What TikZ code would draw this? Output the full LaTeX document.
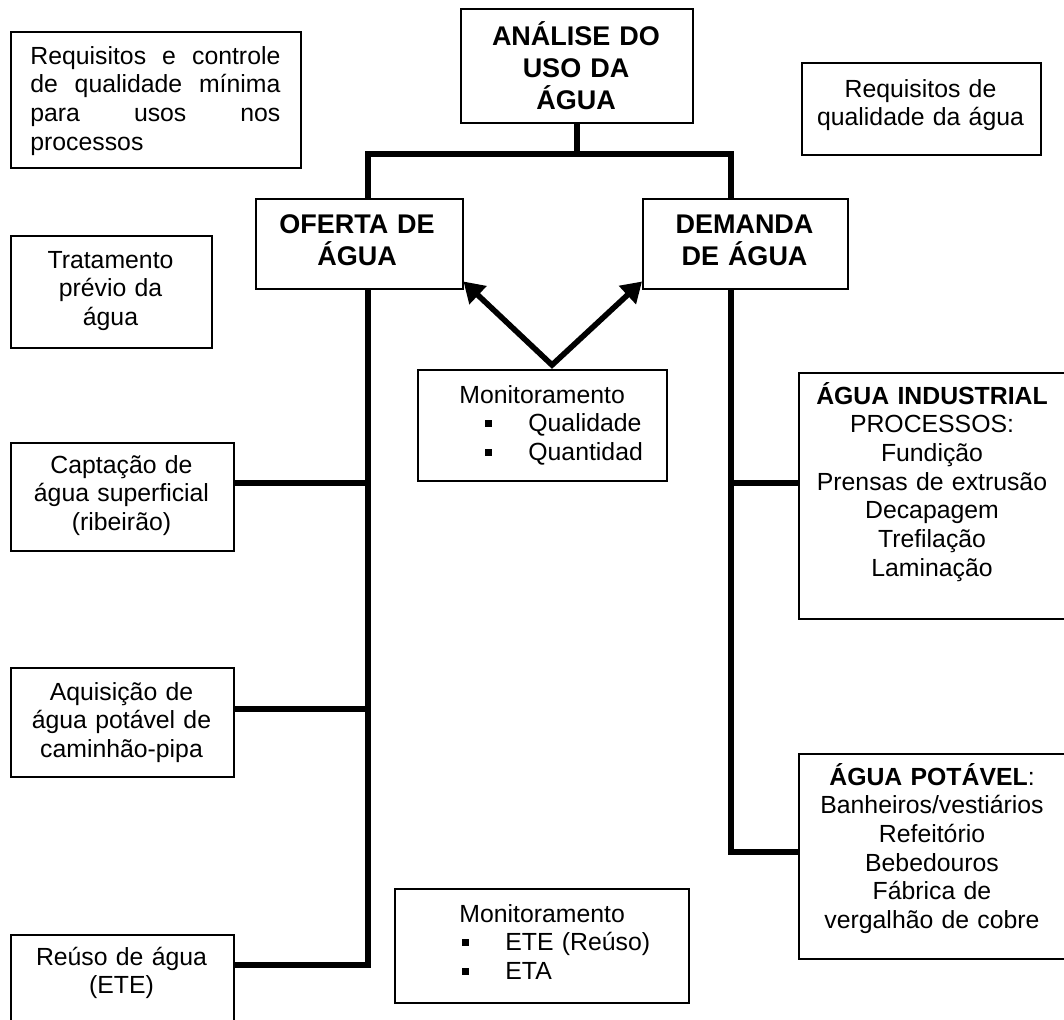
\documentclass[tikz,border=0pt]{standalone}
\usepackage{fontspec}
\setmainfont{Liberation Sans}
\usetikzlibrary{arrows.meta}
\newcommand{\panelfont}{\fontsize{12.4pt}{14.35pt}\selectfont}
\newcommand{\headfont}{\fontsize{13.5pt}{16pt}\selectfont\bfseries}
\newcommand{\sqitem}[1]{\hspace*{34pt}\makebox[21.5pt][l]{\rule[2.4pt]{3.4pt}{3.4pt}}#1}
\tikzset{
    panel/.style = {draw, line width=0.75pt, inner sep=0pt, anchor=north west},
    panel-text/.style = {anchor=base, inner sep=0pt, text width=150pt, align=center, font=\panelfont},
    panel-head/.style = {panel-text, font=\headfont},
    trunk/.style = {line width=3pt},
    pointer/.style = {line width=2.8pt, {Triangle[length=10pt,width=12pt]}-{Triangle[length=10pt,width=12pt]}},
}

\begin{document}
\begin{tikzpicture}[x=0.5pt, y=-0.5pt]
\clip (0,0) rectangle (1064,1019);
% boxes
\node[panel, minimum width=145pt, minimum height=68pt] (reqctrl) at (10,31) {};
\node[panel, minimum width=116pt, minimum height=57pt] (analise) at (460,8) {};
\node[panel, minimum width=119.5pt, minimum height=46pt] (reqqual) at (801,62) {};
\node[panel, minimum width=103.5pt, minimum height=45pt] (oferta) at (255,198) {};
\node[panel, minimum width=102.5pt, minimum height=45pt] (demanda) at (642,198) {};
\node[panel, minimum width=100.5pt, minimum height=56pt] (tratam) at (10,235) {};
\node[panel, minimum width=124.5pt, minimum height=55.5pt] (monqual) at (417,369) {};
\node[panel, minimum width=111.5pt, minimum height=54pt] (captacao) at (10,442) {};
\node[panel, minimum width=134pt, minimum height=123pt] (indust) at (798,372) {};
\node[panel, minimum width=111.5pt, minimum height=54.5pt] (aquisicao) at (10,667) {};
\node[panel, minimum width=134pt, minimum height=102.5pt] (potavel) at (798,753) {};
\node[panel, minimum width=147pt, minimum height=57pt] (monete) at (394,888) {};
\node[panel, minimum width=111.5pt, minimum height=60pt] (reuso) at (10,934) {};

% texts
\node[panel-text, text width=125pt, align=justify, anchor=base west] (reqctrl-txt) at (30,64)
    {Requisitos e controle\linebreak de qualidade mínima\linebreak para usos nos\linebreak processos};
\node[panel-head] (analise-txt) at (576,45) {ANÁLISE DO\\USO DA\\ÁGUA};
\node[panel-text] (reqqual-txt) at (920.5,97) {Requisitos de\\qualidade da água};
\node[panel-head] (oferta-txt) at (357,233) {OFERTA DE\\ÁGUA};
\node[panel-head] (demanda-txt) at (744.5,233) {DEMANDA\\DE ÁGUA};
\node[panel-text] (tratam-txt) at (110.5,268) {Tratamento\\prévio da\\água};
\node[panel-text, text width=140pt, align=left, anchor=base west] (monqual-txt) at (417,403)
    {\hspace*{21pt}Monitoramento\\\sqitem{Qualidade}\\\sqitem{Quantidad}};
\node[panel-text] (captacao-txt) at (121.5,473) {Captação de\\água superficial\\(ribeirão)};
\node[panel-text] (indust-txt) at (932,404)
    {\textbf{ÁGUA INDUSTRIAL}\\PROCESSOS:\\Fundição\\Prensas de extrusão\\Decapagem\\Trefilação\\Laminação};
\node[panel-text] (aquisicao-txt) at (121.5,700) {Aquisição de\\água potável de\\caminhão-pipa};
\node[panel-text] (potavel-txt) at (932,785)
    {\textbf{ÁGUA POTÁVEL}:\\Banheiros/vestiários\\Refeitório\\Bebedouros\\Fábrica de\\vergalhão de cobre};
\node[panel-text, text width=145pt, align=left, anchor=base west] (monete-txt) at (394,922)
    {\hspace*{32.5pt}Monitoramento\\\sqitem{ETE (Reúso)}\\\sqitem{ETA}};
\node[panel-text] (reuso-txt) at (121.5,965) {Reúso de água\\(ETE)};

% trunk lines
\coordinate (left-trunk) at (368,153.5);
\coordinate (right-trunk) at (731,153.5);
\draw[trunk] (analise.south) -- (analise.south |- left-trunk);
\draw[trunk] (oferta.north -| left-trunk) -- (left-trunk) -- (right-trunk) -- (demanda.north -| right-trunk);
\draw[trunk] (oferta.south -| left-trunk) |- (reuso.east |- 0,965);
\draw[trunk] (demanda.south -| right-trunk) |- (potavel.west |- 0,852);
\draw[trunk] (captacao.east |- 0,483) -- (left-trunk |- 0,483);
\draw[trunk] (aquisicao.east |- 0,709) -- (left-trunk |- 0,709);
\draw[trunk] (right-trunk |- 0,483) -- (indust.west |- 0,483);

% monitoring arrows
\coordinate (fork) at (552,365);
\draw[pointer] ([yshift=4pt]oferta.south east) -- (fork) -- ([yshift=4pt]demanda.south west);
\end{tikzpicture}
\end{document}
